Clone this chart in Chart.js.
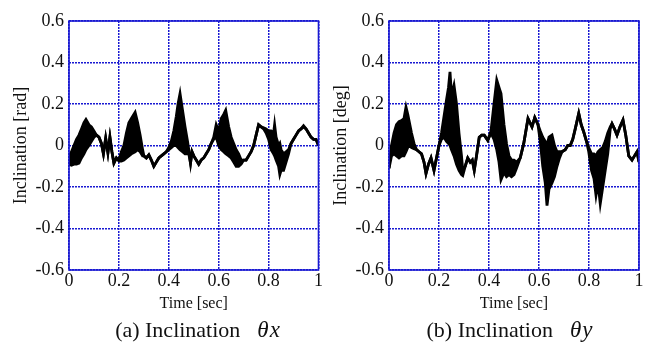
<!DOCTYPE html>
<html>
<head>
<meta charset="utf-8">
<script src="https://cdn.jsdelivr.net/npm/chart.js@4.4.1/dist/chart.umd.min.js"></script>
<style>
  html, body { margin: 0; padding: 0; background: #fff; }
  body { width: 646px; height: 352px; position: relative; overflow: hidden; }
  .panel { position: absolute; top: 0; width: 323px; height: 352px; }
  .cap {
    position: absolute; top: 317px; width: 260px; text-align: center;
    font-family: "Liberation Serif", "Times New Roman", serif; font-size: 22px; color: #111;
    white-space: pre;
  }
  .cap i { font-size: 23px; margin-left: 17px; letter-spacing: 1px; }
</style>
</head>
<body>
<div class="panel" style="left:0"><canvas id="chartA" width="323" height="352"></canvas></div>
<div class="panel" style="left:323px"><canvas id="chartB" width="323" height="352"></canvas></div>
<div class="cap" style="left:68px">(a) Inclination<i>θx</i></div>
<div class="cap" style="left:380px">(b) Inclination<i>θy</i></div>
<script>
// tick labels
var xTickLabels = ["0", "0.2", "0.4", "0.6", "0.8", "1"];
var yTickLabels = ["-0.6", "-0.4", "-0.2", "0", "0.2", "0.4", "0.6"];

// (a) theta x : time, upper / lower edge of the vibrating trace
var timeA = [0, 0.01, 0.02, 0.03, 0.04, 0.05, 0.06, 0.068, 0.08, 0.09,
  0.1, 0.11, 0.12, 0.13, 0.138, 0.147, 0.156, 0.164, 0.172, 0.18,
  0.19, 0.2, 0.21, 0.22, 0.23, 0.24, 0.25, 0.265, 0.275, 0.285,
  0.295, 0.3, 0.31, 0.32, 0.33, 0.34, 0.35, 0.36, 0.37, 0.38,
  0.39, 0.4, 0.41, 0.42, 0.43, 0.437, 0.445, 0.455, 0.465, 0.475,
  0.48, 0.487, 0.493, 0.5, 0.51, 0.52, 0.53, 0.54, 0.55, 0.56,
  0.57, 0.58, 0.59, 0.6, 0.61, 0.62, 0.628, 0.64, 0.65, 0.66,
  0.67, 0.68, 0.69, 0.7, 0.71, 0.72, 0.73, 0.74, 0.75, 0.76,
  0.77, 0.78, 0.79, 0.8, 0.81, 0.82, 0.824, 0.83, 0.84, 0.845,
  0.85, 0.86, 0.87, 0.88, 0.89, 0.9, 0.91, 0.92, 0.93, 0.94,
  0.95, 0.96, 0.97, 0.98, 0.99, 1];
var upperA = [-0.05, -0.03, 0, 0.03, 0.05, 0.08, 0.11, 0.125, 0.1, 0.09,
  0.07, 0.05, 0.04, 0.01, -0.04, 0.035, -0.035, 0.04, -0.03, -0.085,
  -0.06, -0.07, -0.03, 0, 0.06, 0.11, 0.13, 0.16, 0.11, 0.05,
  -0.02, -0.05, -0.06, -0.045, -0.07, -0.1, -0.08, -0.06, -0.05, -0.04,
  -0.03, -0.01, 0.02, 0.07, 0.14, 0.2, 0.25, 0.17, 0.09, 0.02,
  -0.02, -0.085, -0.03, -0.05, -0.07, -0.09, -0.07, -0.06, -0.04, -0.02,
  0.01, 0.04, 0.1, 0.07, 0.13, 0.15, 0.17, 0.09, 0.04, 0.01,
  -0.02, -0.04, -0.07, -0.07, -0.07, -0.05, -0.03, 0, 0.05, 0.1,
  0.09, 0.085, 0.08, 0.07, 0.07, 0.06, 0.1, 0.04, 0, 0.01,
  -0.02, -0.04, -0.03, -0.02, 0.01, 0.03, 0.05, 0.07, 0.08, 0.095,
  0.08, 0.06, 0.04, 0.03, 0.03, 0];
var lowerA = [-0.09, -0.095, -0.09, -0.09, -0.085, -0.06, -0.04, -0.02, 0, 0.02,
  0.04, 0.05, 0.04, 0.01, -0.04, 0.035, -0.035, 0.04, -0.03, -0.085,
  -0.06, -0.075, -0.075, -0.07, -0.06, -0.05, -0.04, -0.03, -0.02, -0.03,
  -0.05, -0.05, -0.06, -0.045, -0.07, -0.1, -0.08, -0.06, -0.05, -0.04,
  -0.03, -0.02, -0.01, 0, 0, -0.01, -0.02, -0.03, -0.04, -0.04,
  -0.04, -0.085, -0.03, -0.05, -0.07, -0.09, -0.07, -0.06, -0.04, -0.02,
  0.01, 0.03, 0.04, 0, -0.02, -0.03, -0.04, -0.05, -0.06, -0.08,
  -0.1, -0.1, -0.09, -0.07, -0.07, -0.05, -0.03, 0, 0.05, 0.1,
  0.09, 0.08, 0.06, 0.03, -0.02, -0.04, -0.05, -0.07, -0.1, -0.14,
  -0.12, -0.12, -0.08, -0.04, 0.01, 0.03, 0.05, 0.07, 0.08, 0.09,
  0.08, 0.06, 0.04, 0.03, 0.03, 0];

// (b) theta y
var timeB = [0, 0.005, 0.01, 0.02, 0.03, 0.04, 0.05, 0.06, 0.068, 0.075,
  0.08, 0.09, 0.1, 0.11, 0.12, 0.13, 0.14, 0.148, 0.158, 0.168,
  0.18, 0.19, 0.2, 0.21, 0.22, 0.23, 0.238, 0.244, 0.25, 0.26,
  0.27, 0.28, 0.29, 0.295, 0.305, 0.315, 0.325, 0.333, 0.341, 0.35,
  0.361, 0.371, 0.381, 0.395, 0.408, 0.42, 0.431, 0.44, 0.448, 0.46,
  0.47, 0.48, 0.49, 0.5, 0.51, 0.525, 0.539, 0.556, 0.572, 0.583,
  0.596, 0.605, 0.615, 0.625, 0.632, 0.64, 0.652, 0.662, 0.672, 0.682,
  0.692, 0.705, 0.715, 0.725, 0.735, 0.745, 0.759, 0.769, 0.779, 0.79,
  0.799, 0.81, 0.82, 0.828, 0.836, 0.845, 0.855, 0.865, 0.875, 0.885,
  0.892, 0.902, 0.912, 0.924, 0.936, 0.947, 0.959, 0.972, 0.982, 0.992, 1];
var upperB = [-0.11, -0.05, 0, 0.06, 0.1, 0.115, 0.12, 0.13, 0.185, 0.15,
  0.12, 0.06, 0.01, -0.02, -0.03, -0.04, -0.08, -0.135, -0.09, -0.06,
  -0.12, -0.06, 0, 0.06, 0.14, 0.22, 0.28, 0.355, 0.24, 0.29,
  0.2, 0.06, -0.05, -0.12, -0.1, -0.06, -0.08, -0.07, -0.12, -0.05,
  0.04, 0.05, 0.05, 0.025, 0.07, 0.2, 0.315, 0.28, 0.25, 0.1,
  0.01, -0.05, -0.07, -0.07, -0.08, -0.06, 0.01, 0.13, 0.09, 0.135,
  0.1, 0.07, 0.04, 0.02, 0, 0.04, 0.05, 0, -0.03, -0.03,
  -0.03, -0.02, 0, 0, 0.03, 0.08, 0.155, 0.1, 0.065, 0.02,
  -0.01, -0.04, -0.04, -0.05, -0.03, -0.02, -0.01, 0.02, 0.06, 0.09,
  0.105, 0.08, 0.05, 0.09, 0.123, 0.05, -0.05, -0.07, -0.05, -0.03, -0.08];
var lowerB = [-0.11, -0.08, -0.05, -0.04, -0.05, -0.06, -0.05, -0.05, -0.03, -0.01,
  0, -0.01, -0.015, -0.02, -0.03, -0.04, -0.08, -0.135, -0.09, -0.06,
  -0.12, -0.06, 0, 0.03, 0.04, 0.02, 0.01, 0, -0.02, -0.05,
  -0.09, -0.12, -0.14, -0.145, -0.1, -0.06, -0.08, -0.07, -0.12, -0.05,
  0.04, 0.05, 0.05, 0.025, 0.06, 0.03, -0.02, -0.08, -0.165, -0.13,
  -0.15, -0.14, -0.15, -0.14, -0.11, -0.06, 0.01, 0.13, 0.09, 0.135,
  0.1, 0.02, -0.1, -0.18, -0.29, -0.21, -0.18, -0.15, -0.1, -0.06,
  -0.03, -0.02, 0, 0, 0.03, 0.08, 0.155, 0.1, 0.065, 0.02,
  -0.03, -0.12, -0.16, -0.24, -0.18, -0.28, -0.2, -0.12, -0.04, 0.08,
  0.105, 0.08, 0.05, 0.09, 0.123, 0.05, -0.05, -0.07, -0.05, -0.03, -0.08];

Chart.defaults.font.family = '"Liberation Serif", "Times New Roman", serif';
Chart.defaults.color = "#111";

var gridBlue = "rgb(25,25,210)";

// solid blue frame around the plot area
var framePlugin = {
  id: "frame",
  afterDraw: function (chart) {
    var a = chart.chartArea, ctx = chart.ctx;
    ctx.save();
    ctx.strokeStyle = gridBlue;
    ctx.lineWidth = 1.6;
    ctx.strokeRect(a.left, a.top, a.right - a.left, a.bottom - a.top);
    ctx.restore();
  }
};

function pts(times, vals) {
  return times.map(function (t, i) { return { x: t, y: vals[i] }; });
}

function makeChart(id, times, upper, lower, yTitle, yWidth, padRight, titlePad) {
  var line = {
    borderColor: "#000",
    borderWidth: 2.8,
    pointRadius: 0,
    tension: 0
  };
  return new Chart(document.getElementById(id), {
    type: "line",
    data: {
      datasets: [
        Object.assign({ data: pts(times, upper), fill: false }, line),
        Object.assign({ data: pts(times, lower), fill: "-1", backgroundColor: "#000" }, line)
      ]
    },
    options: {
      responsive: false,
      animation: false,
      layout: { padding: { left: 0, right: padRight, top: 21, bottom: 35 } },
      plugins: { legend: { display: false }, tooltip: { enabled: false } },
      scales: {
        x: {
          type: "linear",
          min: 0, max: 1,
          afterFit: function (s) { s.height = 47; },
          ticks: {
            stepSize: 0.2, autoSkip: false, maxRotation: 0, padding: 0,
            font: { size: 18 }, color: "#111",
            callback: function (v, i) { return xTickLabels[i]; }
          },
          grid: { color: gridBlue, lineWidth: 1.5, drawTicks: false },
          border: { display: false, dash: [2, 1] },
          title: { display: true, text: "Time [sec]", font: { size: 16 }, color: "#111", padding: { top: 4, bottom: 4 } }
        },
        y: {
          min: -0.6, max: 0.6,
          afterFit: function (s) { s.width = yWidth; },
          ticks: {
            stepSize: 0.2, autoSkip: false, padding: 5,
            font: { size: 18 }, color: "#111",
            callback: function (v, i) { return yTickLabels[i]; }
          },
          grid: { color: gridBlue, lineWidth: 1.5, drawTicks: false },
          border: { display: false, dash: [2, 1] },
          title: { display: true, text: yTitle, font: { size: 18 }, color: "#111", padding: { top: titlePad, bottom: 0 } }
        }
      }
    },
    plugins: [framePlugin]
  });
}

makeChart("chartA", timeA, upperA, lowerA, "Inclination [rad]", 69, 4, 10);
makeChart("chartB", timeB, upperB, lowerB, "Inclination [deg]", 66, 7, 7);
</script>
</body>
</html>
